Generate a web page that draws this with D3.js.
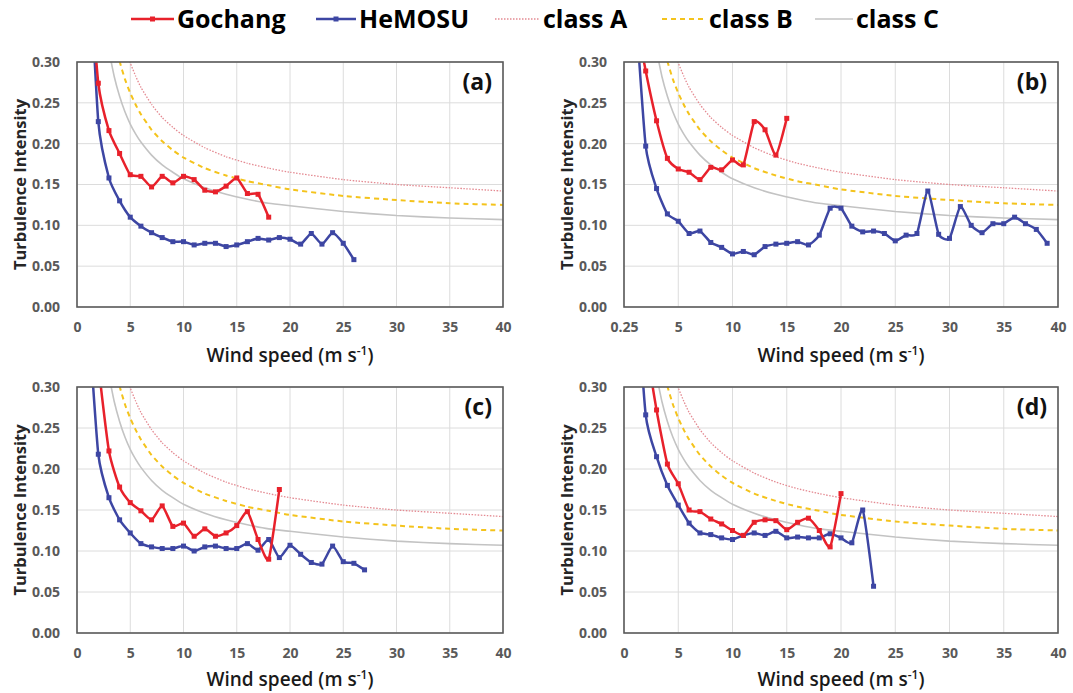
<!DOCTYPE html>
<html lang="en">
  <head>
    <meta charset="UTF-8" />
    <title>Turbulence Intensity vs Wind Speed</title>
    <script src="https://d3js.org/d3.v7.min.js"></script>
    <style>
      body {
        margin: 0;
        background: #fff;
        font-family: "Open Sans", sans-serif;
      }
    </style>
  </head>
  <body>
    <div id="chart"></div>
    <script>
      // wind speed bins (m/s), one value per bin starting at 1
      const windBins = [
        1, 2, 3, 4, 5, 6, 7, 8, 9, 10, 11, 12, 13, 14, 15, 16, 17, 18, 19, 20,
        21, 22, 23, 24, 25, 26, 27, 28, 29, 30, 31, 32, 33, 34, 35, 36, 37, 38,
        39,
      ];

      // IEC reference curves
      const classSpeeds = [
        3, 3.5, 4, 4.5, 5, 5.5, 6, 7, 8, 9, 10, 12, 14, 16, 18, 20, 25, 30, 35,
        40,
      ];
      const classA = [
        0.419, 0.376, 0.344, 0.319, 0.299, 0.283, 0.269, 0.248, 0.232, 0.22,
        0.21, 0.195, 0.184, 0.176, 0.17, 0.165, 0.156, 0.15, 0.146, 0.142,
      ];
      const classB = [
        0.366, 0.329, 0.301, 0.279, 0.262, 0.248, 0.236, 0.217, 0.203, 0.192,
        0.183, 0.17, 0.161, 0.154, 0.149, 0.144, 0.136, 0.131, 0.127, 0.125,
      ];
      const classC = [
        0.314, 0.282, 0.258, 0.239, 0.224, 0.212, 0.202, 0.186, 0.174, 0.165,
        0.157, 0.146, 0.138, 0.132, 0.127, 0.124, 0.117, 0.112, 0.109, 0.107,
      ];

      // (a)
      const gochangA = [
        0.44, 0.274, 0.216, 0.188, 0.162, 0.16, 0.147, 0.16, 0.152, 0.16, 0.156,
        0.143, 0.141, 0.148, 0.158, 0.139, 0.138, 0.11,
      ];
      const hemosuA = [
        0.47, 0.227, 0.158, 0.13, 0.11, 0.099, 0.091, 0.085, 0.08, 0.08, 0.076,
        0.078, 0.078, 0.074, 0.076, 0.08, 0.084, 0.082, 0.085, 0.083, 0.077,
        0.09, 0.077, 0.091, 0.078, 0.058,
      ];
      // (b)
      const gochangB = [
        0.36, 0.289, 0.228, 0.182, 0.169, 0.165, 0.156, 0.171, 0.168, 0.18,
        0.174, 0.227, 0.217, 0.186, 0.231,
      ];
      const hemosuB = [
        0.38, 0.197, 0.145, 0.114, 0.105, 0.09, 0.093, 0.079, 0.073, 0.065,
        0.068, 0.064, 0.074, 0.077, 0.078, 0.08, 0.076, 0.088, 0.121, 0.121,
        0.099, 0.092, 0.093, 0.09, 0.081, 0.088, 0.09, 0.142, 0.089, 0.084,
        0.123, 0.1, 0.091, 0.102, 0.102, 0.11, 0.102, 0.095, 0.078,
      ];
      // (c)
      const gochangC = [
        0.5, 0.33, 0.222, 0.178, 0.159, 0.149, 0.138, 0.155, 0.13, 0.134, 0.118,
        0.127, 0.118, 0.122, 0.131, 0.148, 0.114, 0.09, 0.175,
      ];
      const hemosuC = [
        0.4, 0.218, 0.165, 0.138, 0.122, 0.109, 0.105, 0.103, 0.103, 0.106, 0.1,
        0.105, 0.106, 0.103, 0.103, 0.109, 0.101, 0.114, 0.092, 0.107, 0.096,
        0.086, 0.084, 0.106, 0.087, 0.085, 0.077,
      ];
      // (d)
      const gochangD = [
        0.55, 0.36, 0.272, 0.206, 0.182, 0.15, 0.148, 0.139, 0.133, 0.125,
        0.119, 0.135, 0.138, 0.137, 0.126, 0.135, 0.14, 0.125, 0.105, 0.17,
      ];
      const hemosuD = [
        0.45, 0.266, 0.215, 0.18, 0.156, 0.134, 0.122, 0.12, 0.116, 0.114,
        0.119, 0.122, 0.119, 0.124, 0.116, 0.117, 0.116, 0.116, 0.121, 0.116,
        0.11, 0.15, 0.057,
      ];

      const xTicks = [0, 5, 10, 15, 20, 25, 30, 35, 40];
      const xTickLabels = ["0", "5", "10", "15", "20", "25", "30", "35", "40"];
      const xTickLabelsB = ["0.25", "5", "10", "15", "20", "25", "30", "35", "40"];
      const yTicks = [0, 0.05, 0.1, 0.15, 0.2, 0.25, 0.3];

      const seriesNames = ["Gochang", "HeMOSU", "class A", "class B", "class C"];

      const red = "#e8212b";
      const blue = "#3d46a3";
      const styles = {
        Gochang: { stroke: red, width: 2.5, dash: null, marker: true },
        HeMOSU: { stroke: blue, width: 2.5, dash: null, marker: true },
        "class A": { stroke: "#e48a92", width: 1.3, dash: "1.5,1.5", marker: false },
        "class B": { stroke: "#f4c31c", width: 2, dash: "5,4", marker: false },
        "class C": { stroke: "#c3c3c3", width: 1.6, dash: null, marker: false },
      };

      const width = 1073;
      const height = 693;

      const svg = d3
        .select("#chart")
        .append("svg")
        .attr("width", width)
        .attr("height", height)
        .style("display", "block");

      svg.append("rect").attr("width", width).attr("height", height).attr("fill", "#fff");

      const panels = [
        { id: "a", left: 77, right: 503, top: 62, bottom: 307, titleGap: 55, gochang: gochangA, hemosu: hemosuA, xLabels: xTickLabels },
        { id: "b", left: 624, right: 1058, top: 62, bottom: 307, titleGap: 55, gochang: gochangB, hemosu: hemosuB, xLabels: xTickLabelsB },
        { id: "c", left: 77, right: 503, top: 387, bottom: 633, titleGap: 53, gochang: gochangC, hemosu: hemosuC, xLabels: xTickLabels },
        { id: "d", left: 624, right: 1058, top: 387, bottom: 633, titleGap: 53, gochang: gochangD, hemosu: hemosuD, xLabels: xTickLabels },
      ];

      panels.forEach(drawPanel);
      drawLegend();

      function drawPanel(p) {
        const x = d3.scaleLinear().domain([0, 40]).range([p.left, p.right]);
        const y = d3.scaleLinear().domain([0, 0.3]).range([p.bottom, p.top]);
        const g = svg.append("g");

        g.append("clipPath")
          .attr("id", "clip-" + p.id)
          .append("rect")
          .attr("x", p.left)
          .attr("y", p.top)
          .attr("width", p.right - p.left)
          .attr("height", p.bottom - p.top);

        // gridlines
        g.append("g")
          .selectAll("line")
          .data(xTicks)
          .join("line")
          .attr("x1", (d) => x(d))
          .attr("x2", (d) => x(d))
          .attr("y1", p.top)
          .attr("y2", p.bottom)
          .attr("stroke", "#dcdcdc")
          .attr("stroke-width", 1);

        g.append("g")
          .selectAll("line")
          .data(yTicks)
          .join("line")
          .attr("x1", p.left)
          .attr("x2", p.right)
          .attr("y1", (d) => y(d))
          .attr("y2", (d) => y(d))
          .attr("stroke", "#dcdcdc")
          .attr("stroke-width", 1);

        // axes (labels only, frame drawn separately)
        const yAxis = g
          .append("g")
          .attr("transform", `translate(${p.left},0)`)
          .call(
            d3.axisLeft(y).tickValues(yTicks).tickFormat(d3.format(".2f")).tickSize(0).tickPadding(17)
          );
        const xAxis = g
          .append("g")
          .attr("transform", `translate(0,${p.bottom})`)
          .call(
            d3.axisBottom(x).tickValues(xTicks).tickFormat((d, i) => p.xLabels[i]).tickSize(0).tickPadding(15)
          );
        [yAxis, xAxis].forEach((ax) => {
          ax.select(".domain").remove();
          ax.attr("font-family", "'Open Sans', sans-serif")
            .attr("font-size", 14)
            .attr("font-weight", 700);
          ax.selectAll("text").attr("fill", "#595959");
        });

        // series
        const plot = g.append("g").attr("clip-path", `url(#clip-${p.id})`);
        const line = d3
          .line()
          .x((d) => x(d[0]))
          .y((d) => y(d[1]))
          .curve(d3.curveCardinal.tension(0.45));

        const seriesData = {
          "class A": d3.zip(classSpeeds, classA),
          "class B": d3.zip(classSpeeds, classB),
          "class C": d3.zip(classSpeeds, classC),
          Gochang: d3.zip(windBins, p.gochang),
          HeMOSU: d3.zip(windBins, p.hemosu),
        };

        ["class C", "class B", "class A", "HeMOSU", "Gochang"].forEach((name) => {
          const s = styles[name];
          plot.append("path")
            .datum(seriesData[name])
            .attr("fill", "none")
            .attr("stroke", s.stroke)
            .attr("stroke-width", s.width)
            .attr("stroke-dasharray", s.dash)
            .attr("stroke-linejoin", "round")
            .attr("d", line);
          if (s.marker) {
            plot.append("g")
              .selectAll("rect")
              .data(seriesData[name])
              .join("rect")
              .attr("x", (d) => x(d[0]) - 2.5)
              .attr("y", (d) => y(d[1]) - 2.5)
              .attr("width", 5)
              .attr("height", 5)
              .attr("fill", s.stroke);
          }
        });

        // plot frame
        g.append("rect")
          .attr("x", p.left)
          .attr("y", p.top)
          .attr("width", p.right - p.left)
          .attr("height", p.bottom - p.top)
          .attr("fill", "none")
          .attr("stroke", "#5a5a5a")
          .attr("stroke-width", 1.6);

        g.append("text")
          .attr("x", p.right - 11)
          .attr("y", p.top + 28)
          .attr("text-anchor", "end")
          .attr("font-size", 23)
          .attr("font-weight", 700)
          .attr("fill", "#111")
          .text(`(${p.id})`);

        // axis titles
        const cy = (p.top + p.bottom) / 2;
        g.append("text")
          .attr("transform", `translate(${p.left - 58},${cy}) rotate(-90)`)
          .attr("text-anchor", "middle")
          .attr("dominant-baseline", "central")
          .attr("font-size", 16.5)
          .attr("font-weight", 700)
          .attr("fill", "#262626")
          .text("Turbulence Intensity");

        const xt = g.append("text")
          .attr("x", (p.left + p.right) / 2)
          .attr("y", p.bottom + p.titleGap)
          .attr("text-anchor", "middle")
          .attr("font-size", 19)
          .attr("font-weight", 600)
          .attr("fill", "#1a1a1a");
        xt.append("tspan").text("Wind speed (m s");
        xt.append("tspan").attr("font-size", 12).attr("dy", -7).text("-1");
        xt.append("tspan").attr("dy", 7).text(")");
      }

      function drawLegend() {
        const lg = svg.append("g").attr("class", "legend");
        const itemX = [131, 316, 495, 662, 815];
        const lineLen = [43, 40, 45, 44, 38];
        seriesNames.forEach((name, i) => {
          const s = styles[name];
          const x0 = itemX[i];
          lg.append("line")
            .attr("x1", x0)
            .attr("x2", x0 + lineLen[i])
            .attr("y1", 19)
            .attr("y2", 19)
            .attr("stroke", s.stroke)
            .attr("stroke-width", s.marker ? 2.5 : s.width)
            .attr("stroke-dasharray", s.dash);
          if (s.marker) {
            lg.append("rect")
              .attr("x", x0 + lineLen[i] / 2 - 2.5)
              .attr("y", 16.5)
              .attr("width", 5)
              .attr("height", 5)
              .attr("fill", s.stroke);
          }
          lg.append("text")
            .attr("x", x0 + lineLen[i] + 3)
            .attr("y", 28)
            .attr("font-size", 25)
            .attr("font-weight", 700)
            .attr("fill", "#000")
            .text(name);
        });
      }
    </script>
  </body>
</html>
